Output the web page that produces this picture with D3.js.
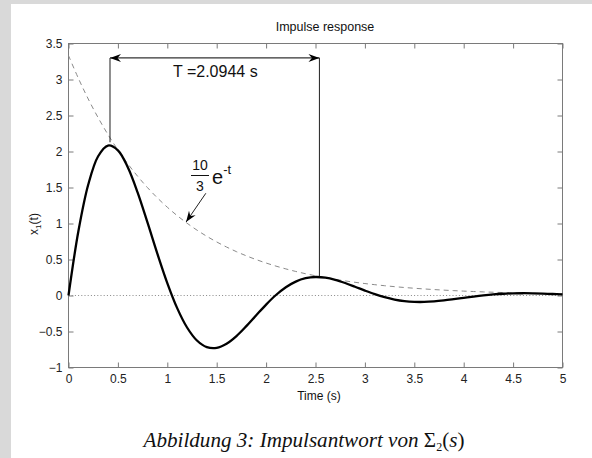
<!DOCTYPE html>
<html><head><meta charset="utf-8">
<script src="https://cdn.jsdelivr.net/npm/d3@7"></script>
<style>
html,body{margin:0;padding:0;background:#fff;}
svg{display:block;}
</style></head>
<body>
<script>
// ---- data ----
const time = [0,0.1,0.2,0.3,0.4,0.5,0.6,0.7,0.8,0.9,1.0,1.1,1.2,1.3,1.4,1.5,1.6,1.7,1.8,1.9,2.0,2.1,2.2,2.3,2.4,2.5,2.6,2.7,2.8,2.9,3.0,3.1,3.2,3.3,3.4,3.5,3.6,3.7,3.8,3.9,4.0,4.1,4.2,4.3,4.4,4.5,4.6,4.7,4.8,4.9,5.0];
const response = [0,0.8913,1.5410,1.9343,2.0826,2.0167,1.7815,1.4289,1.0117,0.5792,0.1731,-0.1750,-0.4443,-0.6248,-0.7164,-0.7271,-0.6704,-0.5638,-0.4258,-0.2746,-0.1260,0.0069,0.1151,0.1933,0.2400,0.2567,0.2472,0.2173,0.1732,0.1216,0.0684,0.0187,-0.0237,-0.0563,-0.0779,-0.0885,-0.0894,-0.0820,-0.0685,-0.0512,-0.0328,-0.0145,0.0017,0.0148,0.0242,0.0298,0.0316,0.0303,0.0263,0.0207,0.0146];
const envelope = [3.3333,3.0161,2.7291,2.4694,2.2344,2.0218,1.8294,1.6553,1.4978,1.3552,1.2263,1.1096,1.0040,0.9084,0.8220,0.7438,0.6730,0.6089,0.5510,0.4986,0.4511,0.4082,0.3693,0.3342,0.3024,0.2736,0.2476,0.2240,0.2027,0.1834,0.1660,0.1502,0.1359,0.1229,0.1112,0.1007,0.0911,0.0824,0.0746,0.0675,0.0611,0.0552,0.0500,0.0452,0.0409,0.0370,0.0335,0.0303,0.0274,0.0248,0.0225];
const xTicks = [0,0.5,1,1.5,2,2.5,3,3.5,4,4.5,5];
const xTickLabels = ["0","0.5","1","1.5","2","2.5","3","3.5","4","4.5","5"];
const yTicks = [-1,-0.5,0,0.5,1,1.5,2,2.5,3,3.5];
const yTickLabels = ["\u22121","\u22120.5","0","0.5","1","1.5","2","2.5","3","3.5"];
const periodMarks = [0.42, 2.54];     // times of the two peaks marked
const periodBottoms = [2.13, 0.27];   // where the vertical marker lines end
const periodTop = 3.30;               // height of the double arrow
const periodLabel = "T =2.0944 s";
const envArrow = {from:[1.39, 1.42], to:[1.19, 1.02]};
const title = "Impulse response";
const xLabel = "Time (s)";

// ---- layout ----
const W = 592, H = 458;
const L = 68.5, R = 562.5, T = 43.5, B = 367.5;
const svg = d3.select("body").append("svg").attr("width", W).attr("height", H);
svg.append("rect").attr("width", W).attr("height", H).attr("fill", "#d9d9d9");
svg.append("rect").attr("x", 11).attr("y", 4).attr("width", W - 11).attr("height", H - 4).attr("fill", "#fff");

const x = d3.scaleLinear().domain([0, 5]).range([L, R]);
const y = d3.scaleLinear().domain([-1, 3.5]).range([B, T]);
const font = "Liberation Sans, Arial, Helvetica, sans-serif";
const axisCol = "#7a7a7a";

function styleAxis(g){
  g.select(".domain").remove();
  g.selectAll(".tick line").attr("stroke", axisCol);
  g.selectAll(".tick text").attr("fill", "#222").style("font-family", font).style("font-size", "12px");
}
svg.append("g").attr("transform", `translate(0,${B})`)
  .call(d3.axisBottom(x).tickValues(xTicks).tickSize(-5).tickPadding(7).tickFormat((d,i)=>xTickLabels[i]))
  .call(styleAxis);
svg.append("g").attr("transform", `translate(0,${T})`)
  .call(d3.axisTop(x).tickValues(xTicks).tickSize(-5).tickFormat(""))
  .call(styleAxis);
svg.append("g").attr("transform", `translate(${L},0)`)
  .call(d3.axisLeft(y).tickValues(yTicks).tickSize(-5).tickPadding(6).tickFormat((d,i)=>yTickLabels[i]))
  .call(styleAxis);
svg.append("g").attr("transform", `translate(${R},0)`)
  .call(d3.axisRight(y).tickValues(yTicks).tickSize(-5).tickFormat(""))
  .call(styleAxis);
svg.append("rect").attr("x", L).attr("y", T).attr("width", R - L).attr("height", B - T)
  .attr("fill", "none").attr("stroke", axisCol).attr("stroke-width", 1);

// zero line
svg.append("line").attr("x1", x(0)).attr("x2", x(5)).attr("y1", y(0)).attr("y2", y(0))
  .attr("stroke", "#888").attr("stroke-dasharray", "1,2.2").attr("stroke-width", 1);

// envelope
const pts = time.map((t,i)=>({t, v: response[i], e: envelope[i]}));
svg.append("path").datum(pts)
  .attr("d", d3.line().x(d=>x(d.t)).y(d=>y(d.e)).curve(d3.curveCatmullRom))
  .attr("fill", "none").attr("stroke", "#8a8a8a").attr("stroke-width", 1).attr("stroke-dasharray", "5,4");

// response
svg.append("path").datum(pts)
  .attr("d", d3.line().x(d=>x(d.t)).y(d=>y(d.v)).curve(d3.curveCatmullRom))
  .attr("fill", "none").attr("stroke", "#000").attr("stroke-width", 2.3).attr("stroke-linejoin", "round");

// period annotation
const annCol = "#333";
periodMarks.forEach((t,i)=>{
  svg.append("line").attr("x1", x(t)).attr("x2", x(t)).attr("y1", y(periodTop)).attr("y2", y(periodBottoms[i]))
    .attr("stroke", annCol).attr("stroke-width", 1.1);
});
svg.append("line").attr("x1", x(periodMarks[0])).attr("x2", x(periodMarks[1]))
  .attr("y1", y(periodTop)).attr("y2", y(periodTop)).attr("stroke", annCol).attr("stroke-width", 1.1);
function arrowHead(tx, ty, ang){
  // concave-back arrowhead, tip at (tx,ty), pointing in direction ang (radians)
  const len = 11, wid = 4, back = 7.5;
  const p = [[0,0],[-len,-wid],[-back,0],[-len,wid]].map(([a,b])=>[
    tx + a*Math.cos(ang) - b*Math.sin(ang), ty + a*Math.sin(ang) + b*Math.cos(ang)]);
  svg.append("path").attr("d", "M" + p.map(q=>q.join(",")).join("L") + "Z").attr("fill", "#000");
}
arrowHead(x(periodMarks[0]), y(periodTop), Math.PI);
arrowHead(x(periodMarks[1]), y(periodTop), 0);
svg.append("text").attr("x", 173).attr("y", 76.5).text(periodLabel)
  .style("font-family", font).style("font-size", "16px").attr("fill", "#111");

// envelope label and arrow
const ax1 = x(envArrow.from[0]), ay1 = y(envArrow.from[1]), ax2 = x(envArrow.to[0]), ay2 = y(envArrow.to[1]);
svg.append("line").attr("x1", ax1).attr("y1", ay1).attr("x2", ax2).attr("y2", ay2)
  .attr("stroke", "#222").attr("stroke-width", 1);
arrowHead(ax2, ay2, Math.atan2(ay2 - ay1, ax2 - ax1));
const lab = svg.append("g").style("font-family", font).attr("fill", "#111");
lab.append("text").attr("x", 200).attr("y", 170).attr("text-anchor", "middle").style("font-size", "14px").text("10");
lab.append("line").attr("x1", 191).attr("x2", 209).attr("y1", 175.5).attr("y2", 175.5).attr("stroke", "#111").attr("stroke-width", 1);
lab.append("text").attr("x", 200).attr("y", 190.5).attr("text-anchor", "middle").style("font-size", "14px").text("3");
const et = lab.append("text").attr("x", 212).attr("y", 183.5).style("font-size", "20px").text("e");
et.append("tspan").attr("dy", -10).style("font-size", "13px").text("-t");

// titles
svg.append("text").attr("x", 325).attr("y", 31).attr("text-anchor", "middle").text(title)
  .style("font-family", font).style("font-size", "12.5px").attr("fill", "#111");
svg.append("text").attr("x", 319).attr("y", 400).attr("text-anchor", "middle").text(xLabel)
  .style("font-family", font).style("font-size", "12px").attr("fill", "#111");
const yl = svg.append("text").attr("transform", "translate(38,224) rotate(-90)").attr("text-anchor", "middle")
  .style("font-family", font).style("font-size", "12px").attr("fill", "#111");
yl.append("tspan").text("x");
yl.append("tspan").attr("dy", 3).style("font-size", "8px").text("1");
yl.append("tspan").attr("dy", -3).text("(t)");

// caption
const cap = svg.append("text").attr("x", 304).attr("y", 447).attr("text-anchor", "middle")
  .style("font-family", "Liberation Serif, DejaVu Serif, serif").style("font-size", "18px").attr("fill", "#111");
cap.append("tspan").style("font-style", "italic").text("Abbildung 3: Impulsantwort von ");
cap.append("tspan").text("\u03A3");
cap.append("tspan").attr("dy", 4).style("font-size", "12px").text("2");
cap.append("tspan").attr("dy", -4).text("(");
cap.append("tspan").style("font-style", "italic").text("s");
cap.append("tspan").text(")");
const cw = cap.node().getComputedTextLength();
cap.style("font-size", (18 * 322 / cw).toFixed(2) + "px");
</script>
</body></html>
